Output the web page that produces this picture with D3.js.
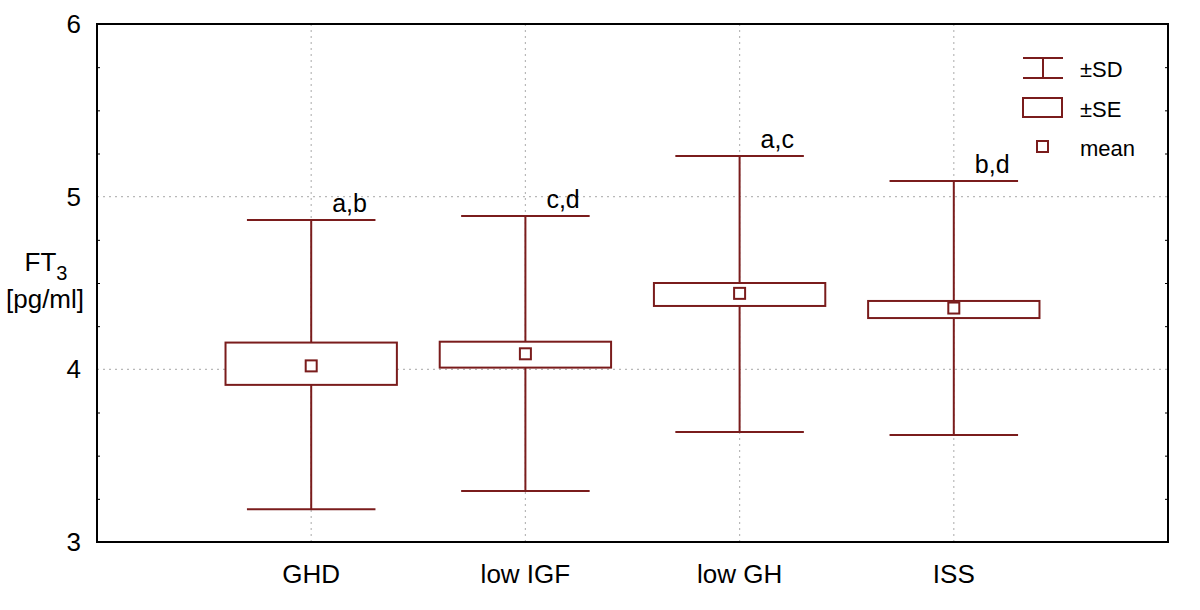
<!DOCTYPE html>
<html>
<head>
<meta charset="utf-8">
<script src="https://cdn.jsdelivr.net/npm/d3@7"></script>
<style>
  body { margin: 0; background: #fff; }
  svg { font-family: "Liberation Sans", Arial, sans-serif; }
</style>
</head>
<body>
<svg id="chart" width="1200" height="610"></svg>
<script>
// groups and their summary stats (FT3, pg/ml)
const groups = ["GHD", "low IGF", "low GH", "ISS"];
const means  = [4.02, 4.09, 4.44, 4.355];
const seLow  = [3.91, 4.01, 4.367, 4.297];
const seHigh = [4.155, 4.16, 4.50, 4.396];
const sdLow  = [3.19, 3.295, 3.637, 3.62];
const sdHigh = [4.865, 4.888, 5.236, 5.091];
const letters = ["a,b", "c,d", "a,c", "b,d"];
const yTicks = [3, 4, 5, 6];

const color = "#7a1c1c";
const svg = d3.select("#chart");
const margin = { top: 24, right: 32, bottom: 68, left: 97 };
const width = 1200, height = 610;

const x = d3.scaleLinear().domain([0, 5]).range([margin.left, width - margin.right]);
const y = d3.scaleLinear().domain([3, 6]).range([height - margin.bottom, margin.top]);

const unit = x(1) - x(0);

// dotted grid
const grid = svg.append("g").attr("stroke", "#b8b8b8").attr("stroke-width", 1.2).attr("stroke-dasharray", "2,4");
grid.selectAll("line.h").data([4, 5]).enter().append("line")
    .attr("x1", x(0)).attr("x2", x(5)).attr("y1", d => y(d)).attr("y2", d => y(d));
grid.selectAll("line.v").data(groups).enter().append("line")
    .attr("x1", (d, i) => x(i + 1)).attr("x2", (d, i) => x(i + 1))
    .attr("y1", y(6)).attr("y2", y(3));

// minor ticks on left and right, every 0.25
const minor = d3.range(3.25, 6, 0.25).filter(v => v % 1 !== 0);
svg.append("g").attr("transform", `translate(${x(0)},0)`)
    .call(d3.axisRight(y).tickValues(minor).tickSize(3).tickFormat(""))
    .call(g => g.select(".domain").remove());
svg.append("g").attr("transform", `translate(${x(5)},0)`)
    .call(d3.axisLeft(y).tickValues(minor).tickSize(3).tickFormat(""))
    .call(g => g.select(".domain").remove());

// y tick labels
svg.append("g").selectAll("text").data(yTicks).enter().append("text")
    .attr("x", 81).attr("y", d => y(d) + 9)
    .attr("text-anchor", "end").attr("font-size", 26).text(d => d);

// group labels
svg.append("g").selectAll("text").data(groups).enter().append("text")
    .attr("x", (d, i) => x(i + 1)).attr("y", 583)
    .attr("text-anchor", "middle").attr("font-size", 26).text(d => d);

// y axis title
const yt = svg.append("text").attr("x", 46).attr("y", 271).attr("text-anchor", "middle").attr("font-size", 26);
yt.append("tspan").text("FT");
yt.append("tspan").attr("font-size", 20).attr("dy", 9).text("3");
svg.append("text").attr("x", 45).attr("y", 308).attr("text-anchor", "middle").attr("font-size", 26).text("[pg/ml]");

// whiskers (SD)
const boxes = svg.append("g").attr("stroke", color).attr("fill", "none").attr("stroke-width", 2);
groups.forEach((g, i) => {
    const cx = x(i + 1);
    const capW = unit * 0.3;
    const boxW = unit * 0.4;
    boxes.append("line").attr("x1", cx).attr("x2", cx).attr("y1", y(sdHigh[i])).attr("y2", y(seHigh[i]));
    boxes.append("line").attr("x1", cx).attr("x2", cx).attr("y1", y(seLow[i])).attr("y2", y(sdLow[i]));
    boxes.append("line").attr("x1", cx - capW).attr("x2", cx + capW).attr("y1", y(sdHigh[i])).attr("y2", y(sdHigh[i]));
    boxes.append("line").attr("x1", cx - capW).attr("x2", cx + capW).attr("y1", y(sdLow[i])).attr("y2", y(sdLow[i]));
    boxes.append("rect").attr("x", cx - boxW).attr("width", boxW * 2)
        .attr("y", y(seHigh[i])).attr("height", y(seLow[i]) - y(seHigh[i])).attr("fill", "#fff");
    boxes.append("rect").attr("x", cx - 5.5).attr("y", y(means[i]) - 5.5)
        .attr("width", 11).attr("height", 11).attr("fill", "#fff");
});

// significance letters
svg.append("g").selectAll("text").data(letters).enter().append("text")
    .attr("x", (d, i) => x(i + 1) + 21).attr("y", (d, i) => y(sdHigh[i]) - 8)
    .attr("font-size", 25).text(d => d);

// frame
svg.append("rect").attr("x", x(0)).attr("y", y(6)).attr("width", x(5) - x(0)).attr("height", y(3) - y(6))
    .attr("fill", "none").attr("stroke", "#000").attr("stroke-width", 2);

// legend
const lg = svg.append("g").attr("stroke", color).attr("fill", "none").attr("stroke-width", 2);
lg.append("line").attr("x1", 1023).attr("x2", 1063).attr("y1", 58).attr("y2", 58);
lg.append("line").attr("x1", 1023).attr("x2", 1063).attr("y1", 78).attr("y2", 78);
lg.append("line").attr("x1", 1043).attr("x2", 1043).attr("y1", 58).attr("y2", 78);
lg.append("rect").attr("x", 1023).attr("y", 98).attr("width", 39).attr("height", 19);
lg.append("rect").attr("x", 1037).attr("y", 141).attr("width", 11).attr("height", 11);
const lt = svg.append("g").attr("font-size", 22);
lt.append("text").attr("x", 1080).attr("y", 77).text("±SD");
lt.append("text").attr("x", 1080).attr("y", 117).text("±SE");
lt.append("text").attr("x", 1080).attr("y", 156).text("mean");
</script>
</body>
</html>
